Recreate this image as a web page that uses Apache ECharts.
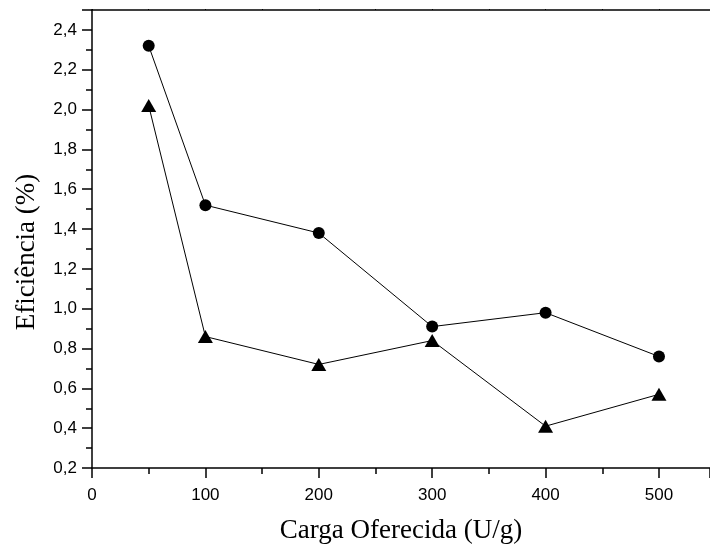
<!DOCTYPE html>
<html><head><meta charset="utf-8">
<script src="https://cdn.jsdelivr.net/npm/echarts@6/dist/echarts.min.js"></script>
<style>html,body{margin:0;padding:0;background:#fff}#c{width:710px;height:549px}</style>
</head><body><div id="c"></div>
<script>
const cargas = [50, 100, 200, 300, 400, 500];
const serieCirculo = [2.32, 1.52, 1.38, 0.91, 0.98, 0.76];
const serieTriangulo = [2.02, 0.86, 0.72, 0.84, 0.41, 0.57];
const xTitle = 'Carga Oferecida (U/g)';
const yTitle = 'Eficiência (%)';

const chart = echarts.init(document.getElementById('c'));
const serif = 'Liberation Serif, Times New Roman, serif';
const sans = 'Liberation Sans, Arial, sans-serif';
chart.setOption({
  animation:false,
  grid:{left:92, top:10, right:0, bottom:78.5, containLabel:false},
  graphic:[{
    type:'text', x:27, y:252, rotation:Math.PI/2,
    style:{text:yTitle, font:'27px ' + serif, fill:'#000', textAlign:'center', textVerticalAlign:'middle'}
  }],
  xAxis:[{
    type:'value', min:0, max:545, interval:100, position:'bottom',
    name:xTitle, nameLocation:'middle', nameGap:49,
    nameTextStyle:{fontFamily:serif, fontSize:27, color:'#000'},
    axisLine:{show:true, onZero:false, lineStyle:{color:'#000', width:1.5}},
    axisTick:{show:true, inside:false, length:10, lineStyle:{color:'#000', width:1.5}},
    minorTick:{show:true, splitNumber:2, length:6, lineStyle:{color:'#000', width:1.5}},
    axisLabel:{margin:19, showMaxLabel:false, color:'#000', fontFamily:sans, fontSize:17},
    splitLine:{show:false}
  },{
    type:'value', min:0, max:545, interval:50, position:'top',
    axisLine:{show:true, onZero:false, lineStyle:{color:'#000', width:1.5}},
    axisTick:{show:true, inside:false, length:1, lineStyle:{color:'#000', width:1}},
    axisLabel:{show:false}, splitLine:{show:false}
  }],
  yAxis:{
    type:'value', min:0.2, max:2.5, interval:0.2,
    axisLine:{show:true, onZero:false, lineStyle:{color:'#000', width:1.5}},
    axisTick:{show:true, length:10, lineStyle:{color:'#000', width:1.5}},
    minorTick:{show:true, splitNumber:2, length:6, lineStyle:{color:'#000', width:1.5}},
    axisLabel:{margin:15, showMaxLabel:false, color:'#000', fontFamily:sans, fontSize:17,
      formatter:v=>v.toFixed(1).replace('.',',')},
    splitLine:{show:false}
  },
  series:[{
    type:'line', data:cargas.map((x,i)=>[x,serieCirculo[i]]),
    symbol:'circle', symbolSize:12,
    itemStyle:{color:'#000'}, lineStyle:{color:'#000', width:1}
  },{
    type:'line', data:cargas.map((x,i)=>[x,serieTriangulo[i]]),
    symbol:'triangle', symbolSize:[15,13],
    itemStyle:{color:'#000'}, lineStyle:{color:'#000', width:1}
  }]
});
</script></body></html>
